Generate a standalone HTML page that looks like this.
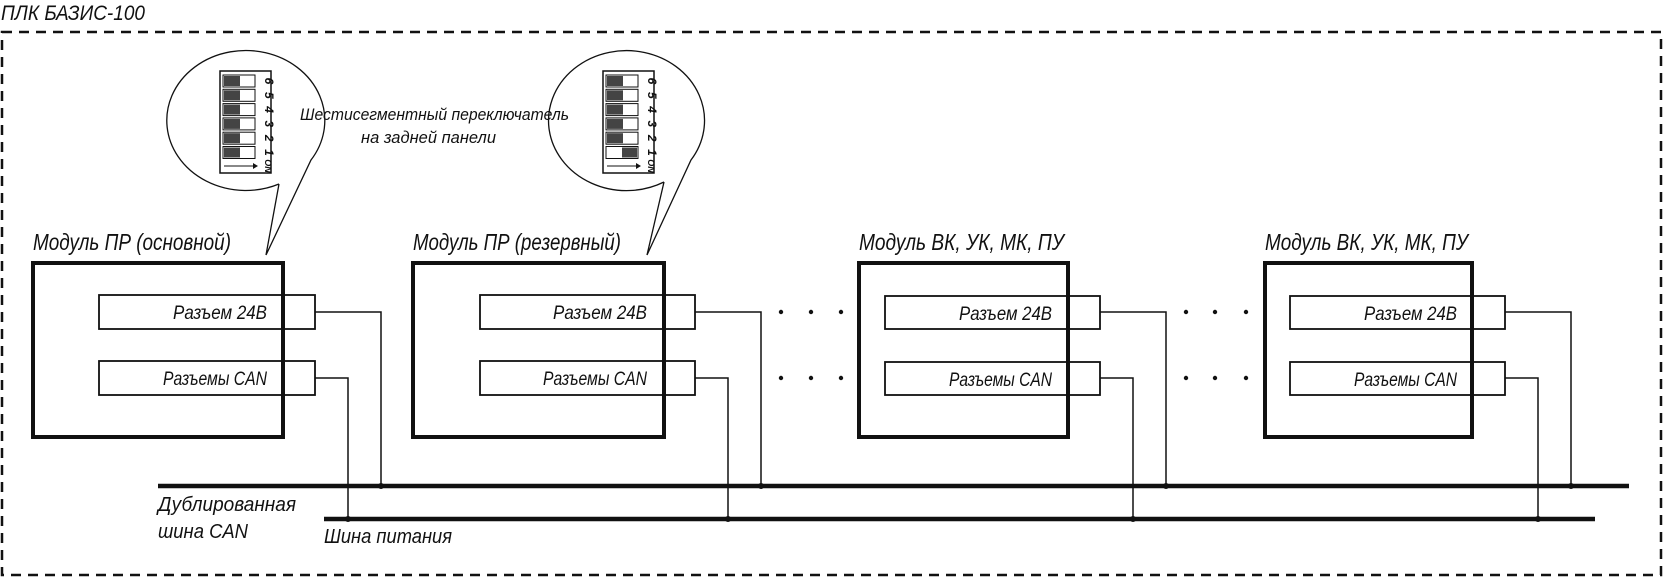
<!DOCTYPE html>
<html><head><meta charset="utf-8"><style>
html,body{margin:0;padding:0;background:#fff;}
svg{display:block;}
text{font-family:"Liberation Sans",sans-serif;font-style:italic;fill:#111;}
</style></head><body>
<svg width="1663" height="578" viewBox="0 0 1663 578" xmlns="http://www.w3.org/2000/svg">
<text x="1" y="20" font-size="21" textLength="144" lengthAdjust="spacingAndGlyphs">ПЛК БАЗИС-100</text>
<rect x="2" y="32" width="1659" height="543" fill="none" stroke="#111" stroke-width="2.5" stroke-dasharray="10,7"/>

<!-- bubbles -->
<g fill="none" stroke="#111" stroke-width="1.3">
<path d="M279,184 L266,255 L311,160 A79,70 0 1 0 279,184"/>
<path d="M664,182 L647,255 L691,160 A78,70 0 1 0 664,182"/>
</g>

<!-- DIP 1 -->
<g>
<rect x="220" y="71" width="51" height="102" fill="#fff" stroke="#111" stroke-width="1.5"/>
<g stroke="#111" stroke-width="1" fill="#fff">
<rect x="223" y="75" width="32" height="12"/><rect x="223" y="89.3" width="32" height="12"/><rect x="223" y="103.6" width="32" height="12"/><rect x="223" y="117.9" width="32" height="12"/><rect x="223" y="132.2" width="32" height="12"/><rect x="223" y="146.5" width="32" height="12"/>
</g>
<g fill="#444">
<rect x="224" y="76" width="16" height="10"/><rect x="224" y="90.3" width="16" height="10"/><rect x="224" y="104.6" width="16" height="10"/><rect x="224" y="118.9" width="16" height="10"/><rect x="224" y="133.2" width="16" height="10"/><rect x="224" y="147.5" width="16" height="10"/>
</g>
<g font-size="12" font-weight="bold" style="font-style:normal">
<text transform="translate(265,81) rotate(90)" text-anchor="middle">6</text>
<text transform="translate(265,95.3) rotate(90)" text-anchor="middle">5</text>
<text transform="translate(265,109.6) rotate(90)" text-anchor="middle">4</text>
<text transform="translate(265,123.9) rotate(90)" text-anchor="middle">3</text>
<text transform="translate(265,138.2) rotate(90)" text-anchor="middle">2</text>
<text transform="translate(265,152.5) rotate(90)" text-anchor="middle">1</text>
<text transform="translate(265,166) rotate(90)" text-anchor="middle" font-size="9">ON</text>
</g>
<path d="M224,166 H256" stroke="#111" stroke-width="1"/><path d="M253,163 L258,166 L253,169Z" fill="#111"/>
</g>

<!-- DIP 2 -->
<g transform="translate(383,0)">
<rect x="220" y="71" width="51" height="102" fill="#fff" stroke="#111" stroke-width="1.5"/>
<g stroke="#111" stroke-width="1" fill="#fff">
<rect x="223" y="75" width="32" height="12"/><rect x="223" y="89.3" width="32" height="12"/><rect x="223" y="103.6" width="32" height="12"/><rect x="223" y="117.9" width="32" height="12"/><rect x="223" y="132.2" width="32" height="12"/><rect x="223" y="146.5" width="32" height="12"/>
</g>
<g fill="#444">
<rect x="224" y="76" width="16" height="10"/><rect x="224" y="90.3" width="16" height="10"/><rect x="224" y="104.6" width="16" height="10"/><rect x="224" y="118.9" width="16" height="10"/><rect x="224" y="133.2" width="16" height="10"/><rect x="239" y="147.5" width="15" height="10"/>
</g>
<g font-size="12" font-weight="bold" style="font-style:normal">
<text transform="translate(265,81) rotate(90)" text-anchor="middle">6</text>
<text transform="translate(265,95.3) rotate(90)" text-anchor="middle">5</text>
<text transform="translate(265,109.6) rotate(90)" text-anchor="middle">4</text>
<text transform="translate(265,123.9) rotate(90)" text-anchor="middle">3</text>
<text transform="translate(265,138.2) rotate(90)" text-anchor="middle">2</text>
<text transform="translate(265,152.5) rotate(90)" text-anchor="middle">1</text>
<text transform="translate(265,166) rotate(90)" text-anchor="middle" font-size="9">ON</text>
</g>
<path d="M224,166 H256" stroke="#111" stroke-width="1"/><path d="M253,163 L258,166 L253,169Z" fill="#111"/>
</g>

<text x="300" y="120" font-size="17" textLength="269" lengthAdjust="spacingAndGlyphs">Шестисегментный переключатель</text>
<text x="361" y="143" font-size="17" textLength="135" lengthAdjust="spacingAndGlyphs">на задней панели</text>

<!-- module titles -->
<text x="33" y="250" font-size="23" textLength="198" lengthAdjust="spacingAndGlyphs">Модуль ПР (основной)</text>
<text x="413" y="250" font-size="23" textLength="208" lengthAdjust="spacingAndGlyphs">Модуль ПР (резервный)</text>
<text x="859" y="250" font-size="23" textLength="205" lengthAdjust="spacingAndGlyphs">Модуль ВК, УК, МК, ПУ</text>
<text x="1265" y="250" font-size="23" textLength="203" lengthAdjust="spacingAndGlyphs">Модуль ВК, УК, МК, ПУ</text>

<!-- module boxes -->
<g fill="none" stroke="#111" stroke-width="4">
<rect x="33" y="263" width="250" height="174"/>
<rect x="413" y="263" width="251" height="174"/>
<rect x="859" y="263" width="209" height="174"/>
<rect x="1265" y="263" width="207" height="174"/>
</g>
<!-- connectors -->
<g fill="none" stroke="#111" stroke-width="1.8">
<rect x="99" y="295" width="216" height="34"/><rect x="99" y="361" width="216" height="34"/>
<rect x="480" y="295" width="215" height="34"/><rect x="480" y="361" width="215" height="34"/>
<rect x="885" y="296" width="215" height="33"/><rect x="885" y="362" width="215" height="33"/>
<rect x="1290" y="296" width="215" height="33"/><rect x="1290" y="362" width="215" height="33"/>
</g>
<g font-size="19" text-anchor="end">
<text x="267" y="319" textLength="94" lengthAdjust="spacingAndGlyphs">Разъем 24В</text>
<text x="267" y="385" textLength="104" lengthAdjust="spacingAndGlyphs">Разъемы CAN</text>
<text x="647" y="319" textLength="94" lengthAdjust="spacingAndGlyphs">Разъем 24В</text>
<text x="647" y="385" textLength="104" lengthAdjust="spacingAndGlyphs">Разъемы CAN</text>
<text x="1052" y="320" textLength="93" lengthAdjust="spacingAndGlyphs">Разъем 24В</text>
<text x="1052" y="386" textLength="103" lengthAdjust="spacingAndGlyphs">Разъемы CAN</text>
<text x="1457" y="320" textLength="93" lengthAdjust="spacingAndGlyphs">Разъем 24В</text>
<text x="1457" y="386" textLength="103" lengthAdjust="spacingAndGlyphs">Разъемы CAN</text>
</g>

<!-- wires -->
<g fill="none" stroke="#111" stroke-width="1.5">
<path d="M315,312 H381 V486"/><path d="M315,378 H348 V519"/>
<path d="M695,312 H761 V486"/><path d="M695,378 H728 V519"/>
<path d="M1100,312 H1166 V486"/><path d="M1100,378 H1133 V519"/>
<path d="M1505,312 H1571 V486"/><path d="M1505,378 H1538 V519"/>
</g>
<!-- buses -->
<path d="M158,486 H1629" stroke="#111" stroke-width="4.5"/>
<path d="M324,519 H1595" stroke="#111" stroke-width="4.5"/>
<g fill="#111">
<circle cx="381" cy="486" r="3"/><circle cx="348" cy="519" r="3"/>
<circle cx="761" cy="486" r="3"/><circle cx="728" cy="519" r="3"/>
<circle cx="1166" cy="486" r="3"/><circle cx="1133" cy="519" r="3"/>
<circle cx="1571" cy="486" r="3"/><circle cx="1538" cy="519" r="3"/>
<circle cx="781" cy="312" r="2.2"/><circle cx="811" cy="312" r="2.2"/><circle cx="841" cy="312" r="2.2"/>
<circle cx="781" cy="378" r="2.2"/><circle cx="811" cy="378" r="2.2"/><circle cx="841" cy="378" r="2.2"/>
<circle cx="1186" cy="312" r="2.2"/><circle cx="1215" cy="312" r="2.2"/><circle cx="1246" cy="312" r="2.2"/>
<circle cx="1186" cy="378" r="2.2"/><circle cx="1215" cy="378" r="2.2"/><circle cx="1246" cy="378" r="2.2"/>
</g>
<g font-size="20">
<text x="158" y="511" textLength="138" lengthAdjust="spacingAndGlyphs">Дублированная</text>
<text x="158" y="538" textLength="90" lengthAdjust="spacingAndGlyphs">шина CAN</text>
<text x="324" y="543" textLength="128" lengthAdjust="spacingAndGlyphs">Шина питания</text>
</g>
</svg>
</body></html>
